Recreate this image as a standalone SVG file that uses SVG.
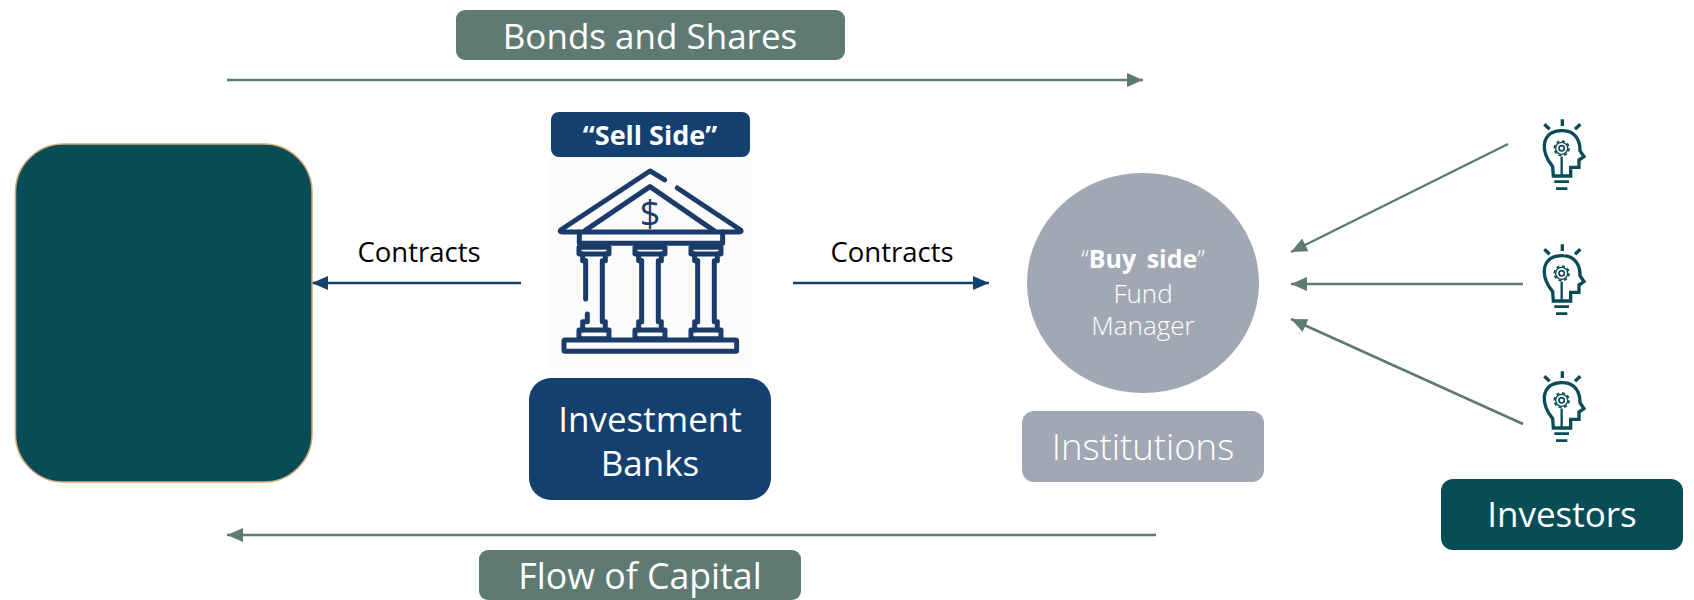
<svg xmlns="http://www.w3.org/2000/svg" xmlns:xlink="http://www.w3.org/1999/xlink" width="1694" height="600" viewBox="0 0 1694 600">
<style>
text{font-family:"Open Sans","Noto Sans","Liberation Sans",sans-serif;text-anchor:middle}
.w{fill:#fff}
.big{font-size:35px}
.blk{font-size:27.500px;fill:#000}
.g{stroke:#5f7a72;stroke-width:2.500;fill:none}
.b{stroke:#14406f;stroke-width:2.500;fill:none}
.bank{fill:none;stroke:#1b3b68;stroke-width:15;stroke-linecap:round;stroke-linejoin:round}
.bulb{fill:none;stroke:#0a4c55;stroke-width:10}
</style>
<defs>
<marker id="ag" markerUnits="userSpaceOnUse" markerWidth="18" markerHeight="16" refX="16" refY="7" orient="auto"><path d="M0 0L16 7L0 14Z" fill="#5f7a72"/></marker>
<marker id="ab" markerUnits="userSpaceOnUse" markerWidth="18" markerHeight="16" refX="16" refY="7" orient="auto"><path d="M0 0L16 7L0 14Z" fill="#14406f"/></marker>
<g id="column" class="bank">
<rect x="-45" y="442" width="90" height="20"/>
<path d="M-34 462V482H-25M34 462V482H25V665H34V690M-25 665H-34V690"/>
<rect x="-45" y="690" width="90" height="26"/>
</g>
<g id="bulb" class="bulb">
<path d="M187 28V48M133 43L149 58M241 43L225 58"/>
<path d="M160 198L158 170C142 150 131 130 133 105C136 72 162 60 190 62C224 63 241 90 240 122L252 140L237 150V172H212V198Z"/>
<path d="M163 215H207M168 236H202" stroke-width="8"/>
<path d="M185 140V198" stroke-width="7"/>
<circle cx="185" cy="115" r="8" stroke-width="5"/>
<circle cx="185" cy="115" r="18" stroke-width="4"/>
<circle cx="185" cy="115" r="22" stroke-width="5" stroke-dasharray="9.300 8"/>
</g>
</defs>

<g id="connectors">
<path class="g" d="M227 80H1143" marker-end="url(#ag)"/>
<path class="g" d="M1156 535H227" marker-end="url(#ag)"/>
<path class="b" d="M521 283H312" marker-end="url(#ab)"/>
<path class="b" d="M793 283H989" marker-end="url(#ab)"/>
<path class="g" d="M1508 144L1291 252" marker-end="url(#ag)"/>
<path class="g" d="M1523 284H1291" marker-end="url(#ag)"/>
<path class="g" d="M1523 424L1291 319" marker-end="url(#ag)"/>
</g>

<g id="bonds-and-shares">
<rect x="456" y="10" width="389" height="50" rx="9" fill="#5f7a72"/>
<text class="w big" x="650" y="49">Bonds and Shares</text>
</g>
<g id="issuer">
<rect x="15.500" y="144" width="296.500" height="338" rx="48" fill="#084c56" stroke="#d0a974" stroke-width="1.500"/>
</g>
<g id="contracts-left"><text class="blk" x="419" y="262">Contracts</text></g>
<g id="contracts-right"><text class="blk" x="892" y="262">Contracts</text></g>

<g id="sell-side-bank">
<rect x="549" y="157" width="203" height="212" fill="#fbfbfb"/>
<rect x="551" y="112" width="199" height="45" rx="8" fill="#14406f"/>
<text class="w" x="650" y="145" font-size="27" font-weight="700">“Sell Side”</text>
<g transform="translate(530 100) scale(.3333)">
<path class="bank" d="M404 240L360 213L92 390Q88 396 96 396H628Q636 396 632 390L442 264"/>
<path class="bank" d="M165 392L360 260L552 392"/>
<path class="bank" d="M148 396V430H578V396"/>
<use xlink:href="#column" href="#column" x="192"/>
<use xlink:href="#column" href="#column" x="360"/>
<use xlink:href="#column" href="#column" x="528"/>
<path class="bank" d="M167 482V597M172 642V665M335 482V665M503 482V665"/>
<rect class="bank" x="102" y="720" width="518" height="34" rx="3"/>
</g>
<text x="650" y="226" font-size="36" fill="#1b3b68">$</text>
</g>
<g id="investment-banks">
<rect x="529" y="378" width="242" height="122" rx="22" fill="#14406f"/>
<text class="w big" x="650" y="432">Investment</text>
<text class="w big" x="650" y="476">Banks</text>
</g>

<g id="fund-manager">
<ellipse cx="1143" cy="283" rx="116" ry="110" fill="#a1a8b4"/>
<text class="w" x="1143" y="268" font-size="25" font-weight="300" word-spacing="4">“<tspan font-weight="700">Buy side</tspan>”</text>
<text class="w" x="1143" y="303" font-size="26" font-weight="300">Fund</text>
<text class="w" x="1143" y="335" font-size="26" font-weight="300">Manager</text>
</g>
<g id="institutions">
<rect x="1022" y="411" width="242" height="71" rx="12" fill="#a1a8b4"/>
<text class="w" x="1143" y="460" font-size="36.500" font-weight="300">Institutions</text>
</g>

<g id="investor-1"><use xlink:href="#bulb" href="#bulb" transform="translate(1500 110) scale(.3333)"/></g>
<g id="investor-2"><use xlink:href="#bulb" href="#bulb" transform="translate(1500 235) scale(.3333)"/></g>
<g id="investor-3"><use xlink:href="#bulb" href="#bulb" transform="translate(1500 362) scale(.3333)"/></g>
<g id="investors">
<rect x="1441" y="479" width="242" height="71" rx="12" fill="#084c56"/>
<text class="w big" x="1562" y="527">Investors</text>
</g>
<g id="flow-of-capital">
<rect x="479" y="550" width="322" height="50" rx="9" fill="#5f7a72"/>
<text class="w" x="640" y="589" font-size="35.700">Flow of Capital</text>
</g>
</svg>
